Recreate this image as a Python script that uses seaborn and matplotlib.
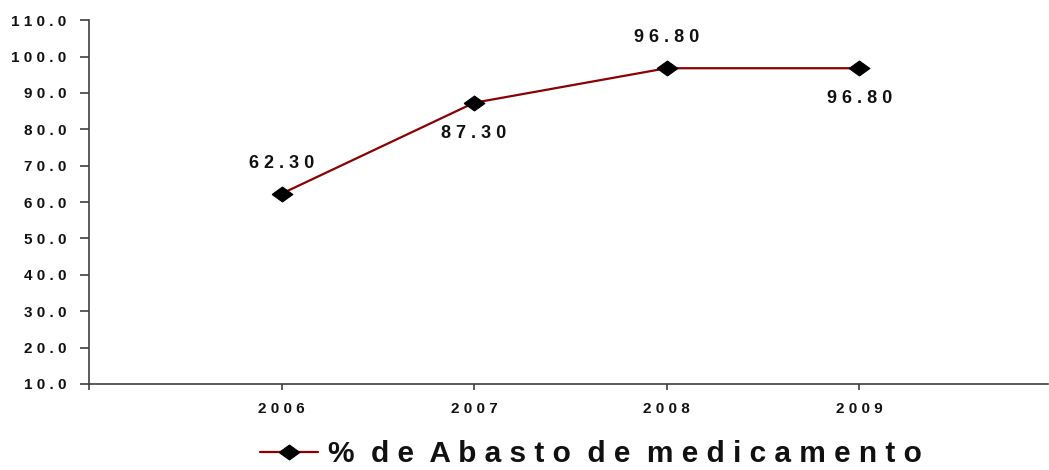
import matplotlib
matplotlib.use("Agg")
import matplotlib.pyplot as plt
import seaborn as sns
import pandas as pd

years = [2006, 2007, 2008, 2009]
abasto = [62.30, 87.30, 96.80, 96.80]
label_pos = ["above", "below", "above", "below"]
series_name = "% de Abasto de medicamento"
y_ticks = [10, 20, 30, 40, 50, 60, 70, 80, 90, 100, 110]

def spaced(s, gap=" ", word_gap="   "):
    return word_gap.join(gap.join(w) for w in s.split(" "))

sns.set_theme(style="white")
plt.rcParams["font.family"] = ["Liberation Sans", "DejaVu Sans"]
plt.rcParams["font.weight"] = "bold"

df = pd.DataFrame({"year": years, "value": abasto})

fig = plt.figure(figsize=(10.49, 4.70), dpi=100)
ax = fig.add_axes([0.0848, 0.183, 0.9142, 0.774])

diamond = [(-1, 0), (0, 0.72), (1, 0), (0, -0.72), (-1, 0)]
sns.lineplot(data=df, x="year", y="value", ax=ax, color="#8B0000", linewidth=1.6,
             marker=diamond, markersize=15, markerfacecolor="black",
             markeredgecolor="black", label=series_name, legend=False)

for x, y, pos in zip(years, abasto, label_pos):
    dy = 22 if pos == "above" else -22
    ax.annotate(spaced(f"{y:.2f}"), (x, y), xytext=(0, dy), textcoords="offset points",
                ha="center", va="center", fontsize=13, fontweight="bold", color="#111111")

ax.set_xlim(2005, 2009.98)
ax.set_ylim(10, 110)
ax.set_xticks([2005] + years)
ax.set_xticklabels([""] + [spaced(str(y)) for y in years], fontsize=11, fontweight="bold")
ax.set_yticks(y_ticks)
ax.set_yticklabels([spaced(f"{v:.1f}") for v in y_ticks], fontsize=11, fontweight="bold")
ax.set_xlabel("")
ax.set_ylabel("")

for side in ["top", "right"]:
    ax.spines[side].set_visible(False)
for side in ["left", "bottom"]:
    ax.spines[side].set_color("#404040")
    ax.spines[side].set_linewidth(1.2)
ax.tick_params(axis="y", direction="out", length=6.5, width=1.2, color="#404040", pad=10)
ax.tick_params(axis="x", direction="out", length=4, width=1.2, color="#404040", pad=9)
ax.tick_params(axis="both", which="both", left=True, bottom=True)
for t in ax.get_yticklabels() + ax.get_xticklabels():
    t.set_color("#111111")

handles, _ = ax.get_legend_handles_labels()
leg = fig.legend(handles, [spaced(series_name, word_gap="  ")], loc="center",
                 bbox_to_anchor=(0.563, 0.034), frameon=False, handlelength=1.95,
                 handletextpad=0.33, prop={"size": 21.5, "weight": "bold"})
for t in leg.get_texts():
    t.set_color("#111111")

fig.savefig("out.png", dpi=100)
